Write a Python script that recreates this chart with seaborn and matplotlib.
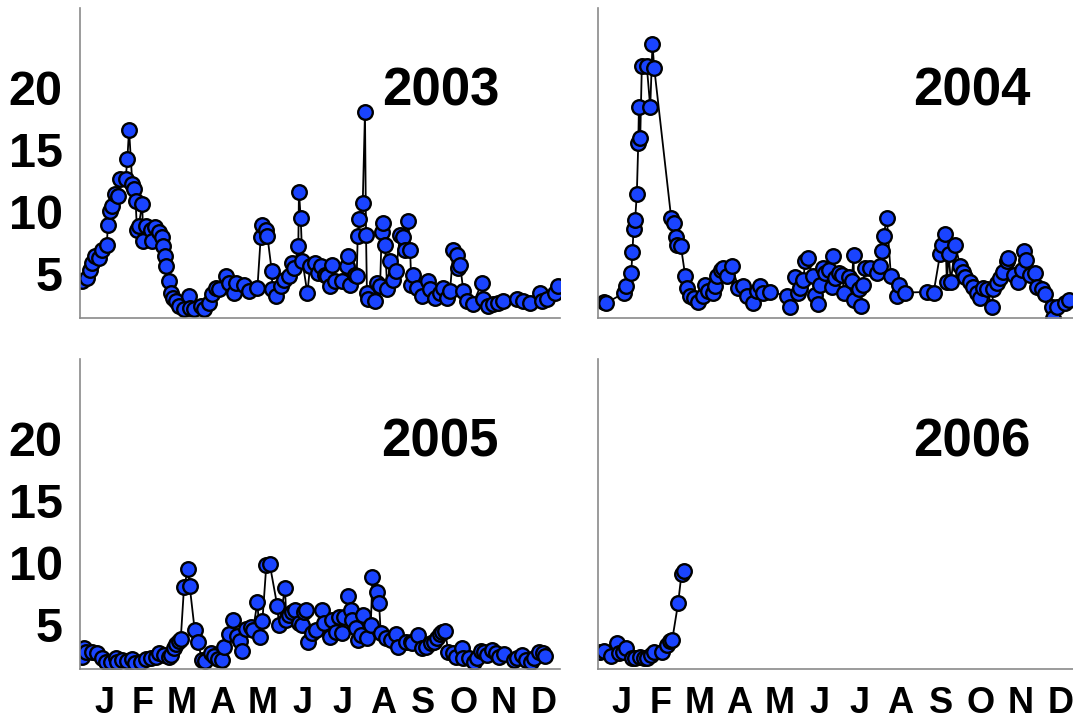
import matplotlib
matplotlib.use("Agg")
import matplotlib.pyplot as plt
import seaborn as sns
import pandas as pd

sns.set_style("white")
plt.rcParams["font.family"] = ["Liberation Sans", "DejaVu Sans"]
plt.rcParams["font.weight"] = "bold"
plt.rcParams["text.color"] = "black"
plt.rcParams["xtick.color"] = "black"
plt.rcParams["ytick.color"] = "black"

# ---------------- data (day of year, value) ----------------
days_2003 = [1.8, 5.6, 7.4, 8.9, 11.4, 14.5, 17, 20.3, 21.3, 22.6, 24.6, 26.6, 29.2, 30.2, 34.7, 36, 37.3,
             39.8, 41, 42.3, 43.3, 44.5, 47.4, 47.9, 49.9, 53.7, 54.5, 57, 60, 62, 63.4, 64.4, 65.1, 67.7,
             69, 70.7, 72.8, 75.3, 79, 82.9, 84, 86.7, 91.8, 94.3, 98, 100.6, 103.2, 105.7, 110.8, 113.3,
             117, 118.4, 124.7, 128.5, 134.9, 137.4, 138.7, 141.2, 142.5, 145.8, 146.3, 148.8, 152.6, 155,
             159, 161.5, 162.7, 166, 166.5, 167.8, 169.1, 172.9, 175, 179, 181, 183, 186.3, 187.6, 190.1,
             191.4, 193.9, 199, 202.8, 204, 205.3, 209.1, 210.4, 211.2, 212.4, 215, 216.7, 217.5, 218.2,
             219.2, 224.3, 225.6, 228.2, 229.4, 230.7, 231.9, 233.7, 235.8, 238.3, 240.3, 243.4, 245.4,
             247.2, 249.7, 251, 252, 253.5, 256.1, 259.9, 264.9, 266.2, 270, 273.8, 276.3, 278.9, 281.4,
             283.9, 286.5, 287.7, 289, 291.5, 294.1, 298.6, 305.5, 306.7, 310.5, 314.3, 318.1, 321.9,
             332.1, 337.1, 342.2, 349.8, 351.1, 354.9, 361.2, 363.8]
vals_2003 = [2.96, 3.2, 3.9, 4.4, 5.0, 4.8, 5.5, 5.9, 7.5, 8.6, 9.0, 10.0, 9.8, 11.2, 11.2, 12.8, 15.2,
             10.8, 10.4, 9.4, 7.1, 7.4, 9.2, 6.2, 7.4, 7.1, 6.2, 7.3, 6.9, 6.5, 5.8, 5.0, 4.2, 3.0,
             2.0, 1.6, 1.35, 0.95, 0.7, 1.75, 0.8, 0.7, 0.95, 0.7, 1.2, 1.9, 2.4, 2.3, 3.4, 2.8,
             2.0, 2.8, 2.7, 2.2, 2.4, 6.5, 7.5, 7.1, 6.6, 3.8, 2.3, 1.75, 2.6, 3.1,
             3.4, 4.4, 4.0, 5.8, 10.2, 8.1, 4.6, 2.0, 4.2, 4.4, 3.6, 4.2, 3.5, 3.4, 2.6,
             4.3, 3.0, 3.0, 4.2, 5.0, 2.7, 3.5, 3.4, 6.6, 7.95, 9.3, 16.6, 6.7, 2.0,
             1.5, 1.35, 2.8, 2.6, 6.9, 7.7, 5.9, 2.3, 4.6, 3.1, 3.8, 6.7, 6.5,
             5.5, 7.8, 5.5, 2.7, 3.5, 2.4, 1.75, 3.0, 2.3, 1.6, 2.0, 2.4, 1.6, 2.2,
             5.5, 5.1, 4.0, 4.3, 2.2, 1.35, 1.1, 2.8, 1.5, 0.95, 1.1, 1.2, 1.35,
             1.5, 1.35, 1.2, 2.0, 1.35, 1.5, 2.0, 2.6]

days_2004 = [4.6, 6.6, 19.8, 21.8, 25.6, 26.6, 27.4, 28.6, 29.9, 31, 31.5, 32.5, 33.7, 37.5, 40.1, 41.8,
             43.1, 56, 57.8, 59.8, 60.8, 63.4, 66.7, 68.4, 70, 73, 76.8, 80.6, 81.9, 84.4, 88.2, 89, 90.8,
             93.8, 95.8, 98.4, 102.2, 107.2, 111, 113.6, 118.6, 121.2, 123.7, 126.2, 131.3, 144, 146.5,
             150.3, 152.8, 154.1, 156.6, 157.9, 159.7, 163.7, 165.5, 167.3, 169.3, 171.3, 173.1, 175.7,
             178.2, 179, 180.7, 184, 185.8, 187.8, 190.9, 193.4, 194.7, 195.2, 198.5, 200.2, 201.8, 203.5,
             207.3, 212.4, 214.9, 216.2, 217.5, 220, 223.1, 227.6, 228.9, 234, 250.4, 255.5, 260.6, 261.8,
             264.4, 265.7, 267, 268.7, 272, 275.8, 278.3, 279.6, 283.4, 285.9, 288.5, 290.5, 293.5, 296.1,
             299.9, 301.1, 303.7, 306.2, 308.2, 311.3, 312.5, 316.4, 319.4, 322.7, 324, 326, 329, 332.8,
             334.1, 337.9, 340.4, 345.5, 346.3, 349.3, 355.6, 358.2]
vals_2004 = [1.27, 1.2, 2.0, 2.6, 3.6, 5.3, 7.2, 7.9, 10.0, 14.1, 17.0, 14.5, 20.3, 20.3, 17.0, 22.1,
             20.2, 8.1, 7.7, 6.5, 5.9, 5.8, 3.4, 2.4, 1.75, 1.6, 1.27, 1.75, 2.7, 2.15, 2.0, 2.6, 3.4,
             3.9, 4.0, 3.4, 4.2, 2.4, 2.6, 1.75, 1.2, 2.15, 2.6, 2.0, 2.1, 1.8, 0.92,
             3.3, 2.0, 2.4, 3.1, 4.6, 4.8, 3.4, 1.86, 1.13, 2.7, 4.0, 3.6, 3.9,
             2.5, 5.0, 3.2, 3.6, 3.5, 2.0, 3.3, 3.0, 5.1, 1.46, 2.3, 0.97, 2.7, 4.0,
             4.0, 3.6, 4.2, 5.4, 6.6, 8.1, 3.4, 1.78, 2.7, 2.05, 2.1, 2.0, 5.2, 5.9,
             6.8, 2.9, 5.2, 2.9, 5.9, 4.2, 3.7, 3.3, 2.9, 2.5, 2.0, 1.6, 2.4, 2.3,
             0.86, 2.3, 2.8, 3.2, 3.7, 4.6, 4.8, 3.5, 2.9, 3.9, 5.4, 4.7, 3.5, 3.6,
             2.5, 2.3, 1.94, 0.92, 0.03, 0.92, 1.19, 1.46]

days_2005 = [1.8, 3, 4.3, 9.4, 13.2, 17, 19.5, 23.3, 27.1, 28.4, 32.2, 36, 39.8, 41.8, 46.1, 49.9, 53.7,
             57.5, 60.1, 63.9, 67.7, 69, 71.5, 73.3, 75.3, 76.6, 79.1, 82.1, 83.4, 87.2, 90, 92.5, 95.1,
             99.4, 101.9, 105.2, 107.7, 109.5, 113.3, 116.4, 119.7, 121.4, 123.5, 126, 129.8, 131.6,
             134.9, 136.6, 138.7, 141.7, 144.2, 150, 151.3, 155.9, 156.9, 159, 161, 163.5, 166.5, 169.1,
             170.3, 172.1, 173.6, 176.2, 179.2, 184.3, 185.6, 189.9, 191.9, 194.5, 197, 199.6, 200.8,
             204.1, 205.9, 207.2, 209.7, 211.7, 213.5, 215.3, 218.6, 221.1, 222.4, 226.2, 227.4, 228.7,
             232.5, 236.3, 240.6, 242.1, 247.7, 251.5, 252.8, 257.3, 260.4, 262.9, 266.7, 269.3, 271.8,
             273.6, 275.6, 277.6, 280.2, 283.7, 285.7, 290.3, 291.3, 295.9, 299.7, 302.2, 304.7, 307.3,
             309.8, 313.1, 316.2, 318.7, 322.5, 330.1, 332.6, 336.4, 338.9, 342.8, 345.3, 349.1, 351.7,
             353.7]
vals_2005 = [1.0, 1.67, 1.34, 1.4, 1.26, 0.86, 0.6, 0.54, 0.86, 0.6, 0.73, 0.65, 0.8, 0.46, 0.6, 0.8, 0.86,
             1.0, 1.26, 1.13, 1.0, 1.13, 1.67, 2.0, 2.26, 2.4, 6.6, 8.06, 6.7, 3.15, 2.15, 0.73, 0.65,
             1.26, 1.08, 0.8, 0.73, 1.8, 2.8, 3.95, 2.7, 2.26, 1.45, 3.2, 3.4, 3.15,
             5.4, 2.6, 3.9, 8.4, 8.5, 5.1, 3.55, 6.5, 3.95, 4.35, 4.6, 4.75, 3.7, 3.55,
             4.6, 4.75, 2.2, 2.9, 3.15, 4.75, 3.7, 2.6, 3.95, 3.0, 4.2, 2.9, 4.2,
             5.9, 4.75, 3.95, 3.3, 2.35, 2.75, 4.35, 2.5, 3.55, 7.4, 6.2, 5.3, 2.9,
             2.5, 2.35, 2.8, 1.8, 2.2, 2.2, 2.1, 2.75, 1.67, 1.8, 2.1, 2.15, 2.5,
             2.8, 3.0, 3.05, 1.34, 1.26, 1.0, 1.7, 0.86, 0.86, 0.6, 0.86, 1.45, 1.34,
             1.13, 1.53, 1.26, 1.0, 1.18, 0.73, 0.86, 1.13, 0.73, 0.6, 0.86, 1.34, 1.26,
             1.08]

days_2006 = [1.8, 5.1, 10.6, 15, 16.7, 19.5, 22, 25.9, 28.4, 32.2, 35.5, 38, 40.6, 43.1, 49.2, 52.5, 55,
             56.8, 61.3, 63.9, 65.9]
vals_2006 = [1.34, 1.45, 1.08, 2.07, 1.26, 1.34, 1.72, 0.91, 0.86, 1.0, 0.91, 0.86, 1.13, 1.34, 1.4, 1.94,
             2.26, 2.34, 5.3, 7.7, 7.9]

years = ["2003", "2004", "2005", "2006"]
series = {"2003": (days_2003, vals_2003), "2004": (days_2004, vals_2004),
          "2005": (days_2005, vals_2005), "2006": (days_2006, vals_2006)}

month_labels = ["J", "F", "M", "A", "M", "J", "J", "A", "S", "O", "N", "D"]
month_starts = [0, 31, 59, 90, 120, 151, 181, 212, 243, 273, 304, 334, 365]
y_ticks = [5, 10, 15, 20]

# ---------------- figure ----------------
W, H = 1073, 724
fig = plt.figure(figsize=(W / 100, H / 100), dpi=100)

# axes boxes in pixels: (left, axis_bottom_y, width, height)
boxes = {"2003": (80, 318, 480, 310), "2004": (597.5, 318, 480, 310),
         "2005": (80, 669, 480, 310), "2006": (597.5, 669, 480, 310)}
title_x = {"2003": 274, "2004": 285, "2005": 274, "2006": 285}

blue = "#1a44ff"
gray = "#8a8a8a"

for i, yr in enumerate(years):
    l, b, w, h = boxes[yr]
    ax = fig.add_axes([l / W, 1 - b / H, w / W, h / H])
    d, v = series[yr]
    df = pd.DataFrame({"day": d, "val": v})
    sns.lineplot(data=df, x="day", y="val", ax=ax, sort=False, estimator=None,
                 color="black", linewidth=1.3, marker="o", markersize=10.5,
                 markerfacecolor=blue, markeredgecolor="black", markeredgewidth=1.7)
    ax.set_xlim(0, 365)
    ax.set_ylim(0, 25)
    ax.set_xlabel("")
    ax.set_ylabel("")
    for s in ["top", "right"]:
        ax.spines[s].set_visible(False)
    for s in ["left", "bottom"]:
        ax.spines[s].set_color(gray)
        ax.spines[s].set_linewidth(1.2)
    ax.set_xticks(month_starts)
    ax.set_xticklabels([])
    ax.set_yticks(y_ticks)
    ax.tick_params(axis="both", which="major", direction="out", length=3.5, width=1,
                   color=gray, labelcolor="black")
    if i in (0, 2):
        ax.set_yticklabels([str(t) for t in y_ticks], fontsize=35, fontweight="bold",
                           va="top")
        ax.tick_params(axis="y", pad=9)
    else:
        ax.set_yticklabels([])
    if i in (2, 3):
        centers = [(month_starts[k] + month_starts[k + 1]) / 2 + 3 for k in range(12)]
        ax.set_xticks(centers, minor=True)
        ax.set_xticklabels(month_labels, minor=True, fontsize=26, fontweight="bold")
        ax.tick_params(axis="x", which="minor", length=0, pad=12, labelcolor="black")
    ax.text(title_x[yr], 18.3, yr, fontsize=38, fontweight="bold", ha="center",
            va="center", color="black")
    ax.set_facecolor("white")
    ax.grid(False)

fig.savefig("out.png", dpi=100)
